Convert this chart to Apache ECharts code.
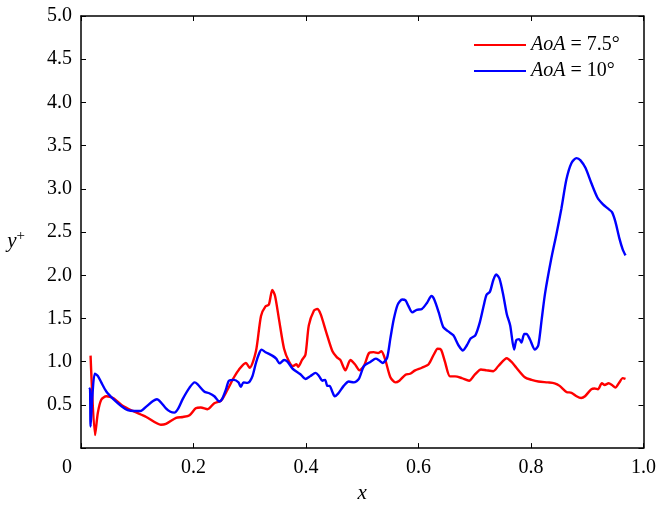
<!DOCTYPE html>
<html>
<head>
<meta charset="utf-8">
<script src="https://cdn.jsdelivr.net/npm/echarts@6/dist/echarts.min.js"></script>
<style>
html, body { margin: 0; padding: 0; background: #fff; }
#chart { width: 659px; height: 509px; }
</style>
</head>
<body>
<div id="chart"></div>
<script>
// y+ distribution along the chord for two angles of attack
const redName = 'AoA = 7.5°';
const blueName = 'AoA = 10°';

const redX = [0.017,0.025,0.030,0.036,0.045,0.057,0.074,0.092,0.116,0.142,0.151,0.169,0.181,0.193,0.204,0.213,0.225,0.237,0.249,0.260,0.272,0.281,0.293,0.300,0.311,0.320,0.328,0.334,0.340,0.345,0.352,0.361,0.370,0.377,0.383,0.386,0.393,0.399,0.405,0.414,0.420,0.426,0.436,0.447,0.455,0.461,0.470,0.479,0.487,0.495,0.503,0.512,0.520,0.528,0.534,0.541,0.550,0.559,0.566,0.577,0.585,0.594,0.606,0.618,0.627,0.634,0.640,0.647,0.656,0.665,0.677,0.690,0.700,0.711,0.721,0.733,0.742,0.757,0.765,0.774,0.789,0.801,0.813,0.830,0.842,0.851,0.863,0.872,0.881,0.889,0.896,0.907,0.913,0.919,0.926,0.931,0.938,0.944,0.950,0.957,0.963,0.968];
const redY = [1.07,0.15,0.41,0.56,0.60,0.58,0.49,0.43,0.36,0.27,0.28,0.35,0.36,0.38,0.46,0.47,0.45,0.52,0.55,0.67,0.82,0.91,0.985,0.93,1.12,1.53,1.64,1.66,1.83,1.76,1.49,1.15,1.00,0.95,0.97,0.94,1.02,1.08,1.42,1.59,1.61,1.55,1.34,1.12,1.05,1.02,0.90,1.02,0.97,0.90,0.95,1.10,1.11,1.10,1.12,1.02,0.82,0.76,0.78,0.85,0.86,0.90,0.93,0.97,1.08,1.15,1.14,1.00,0.83,0.83,0.81,0.78,0.85,0.91,0.90,0.89,0.95,1.04,1.00,0.93,0.82,0.79,0.77,0.76,0.75,0.72,0.65,0.64,0.60,0.58,0.60,0.68,0.69,0.68,0.75,0.73,0.75,0.73,0.70,0.76,0.81,0.80];

const blueX = [0.0145,0.016,0.017,0.020,0.0245,0.030,0.036,0.045,0.057,0.072,0.083,0.095,0.106,0.116,0.128,0.135,0.142,0.151,0.159,0.166,0.173,0.181,0.193,0.202,0.207,0.219,0.228,0.237,0.246,0.251,0.258,0.263,0.272,0.280,0.284,0.289,0.296,0.300,0.305,0.311,0.317,0.321,0.328,0.340,0.347,0.353,0.361,0.367,0.376,0.384,0.390,0.399,0.408,0.417,0.423,0.429,0.434,0.438,0.442,0.447,0.451,0.457,0.467,0.476,0.485,0.494,0.503,0.515,0.524,0.529,0.536,0.544,0.550,0.556,0.563,0.571,0.577,0.582,0.589,0.597,0.606,0.615,0.623,0.628,0.636,0.644,0.653,0.662,0.671,0.679,0.686,0.693,0.701,0.709,0.717,0.721,0.727,0.733,0.738,0.744,0.751,0.757,0.763,0.770,0.774,0.779,0.783,0.788,0.792,0.798,0.807,0.813,0.819,0.825,0.836,0.845,0.854,0.863,0.872,0.881,0.888,0.897,0.907,0.918,0.928,0.937,0.944,0.950,0.957,0.963,0.968];
const blueY = [0.68,0.69,0.25,0.58,0.86,0.835,0.76,0.655,0.57,0.485,0.44,0.43,0.43,0.48,0.545,0.565,0.53,0.46,0.42,0.41,0.46,0.57,0.70,0.76,0.74,0.655,0.635,0.60,0.54,0.57,0.685,0.78,0.79,0.76,0.71,0.76,0.755,0.77,0.835,0.985,1.10,1.14,1.11,1.07,1.035,0.98,1.02,1.00,0.92,0.88,0.855,0.80,0.835,0.87,0.835,0.78,0.79,0.72,0.72,0.65,0.60,0.63,0.72,0.77,0.76,0.80,0.95,1.00,1.035,1.02,0.985,1.04,1.27,1.49,1.66,1.72,1.71,1.645,1.57,1.60,1.61,1.68,1.76,1.72,1.57,1.40,1.35,1.305,1.19,1.13,1.19,1.27,1.305,1.455,1.68,1.775,1.81,1.945,2.01,1.96,1.76,1.55,1.42,1.14,1.25,1.26,1.22,1.32,1.32,1.26,1.14,1.19,1.49,1.79,2.19,2.47,2.77,3.11,3.30,3.355,3.33,3.24,3.07,2.90,2.82,2.77,2.73,2.62,2.43,2.30,2.23];

const xMin = 0, xMax = 1.0, xStep = 0.2;
const yMin = 0, yMax = 5.0, yStep = 0.5;

const zip = (xs, ys) => xs.map((x, i) => [x, ys[i]]);

const FONT = '"Liberation Serif", "DejaVu Serif", serif';
const FS = 20;

const chart = echarts.init(document.getElementById('chart'), null, { renderer: 'canvas' });

const axisLine = { show: true, onZero: false, lineStyle: { color: '#000', width: 1.5 } };
const tickIn = { show: true, inside: true, length: 5, lineStyle: { color: '#000', width: 1 } };

chart.setOption({
  animation: false,
  backgroundColor: '#fff',
  grid: { left: 81, right: 13, top: 16, bottom: 50, containLabel: false },
  legend: {
    orient: 'vertical',
    left: 469,
    top: 29,
    itemWidth: 52,
    itemHeight: 2,
    itemGap: 4,
    icon: 'rect',
    data: [redName, blueName],
    formatter: function (name) {
      return name.replace('AoA', '{i|AoA}');
    },
    textStyle: {
      fontFamily: FONT,
      fontSize: FS,
      color: '#000',
      lineHeight: 22,
      padding: [0, 0, 0, 0],
      rich: { i: { fontFamily: FONT, fontSize: FS, fontStyle: 'italic', color: '#000' } }
    }
  },
  xAxis: [{
    type: 'value', min: xMin, max: xMax, interval: xStep, position: 'bottom',
    name: 'x', nameLocation: 'middle', nameGap: 29,
    nameTextStyle: { fontFamily: FONT, fontSize: FS + 1, fontStyle: 'italic', color: '#000' },
    axisLine: axisLine, axisTick: tickIn, splitLine: { show: false },
    axisLabel: {
      margin: 10, fontFamily: FONT, fontSize: FS, color: '#000',
      formatter: v => v === 0 ? '{o|0}' : v.toFixed(1),
      rich: { o: { fontFamily: FONT, fontSize: FS, color: '#000', padding: [0, 28, 0, 0] } }
    }
  }, {
    type: 'value', min: xMin, max: xMax, interval: xStep, position: 'top',
    axisLine: axisLine, axisTick: tickIn, splitLine: { show: false },
    axisLabel: { show: false }
  }],
  yAxis: [{
    type: 'value', min: yMin, max: yMax, interval: yStep, position: 'left',
    name: '{i|y}{s|+}', nameLocation: 'middle', nameRotate: 0, nameGap: 56,
    nameTextStyle: {
      fontFamily: FONT, fontSize: FS, color: '#000', align: 'right',
      padding: [18, 0, 0, 0],
      rich: {
        i: { fontFamily: FONT, fontSize: FS + 1, fontStyle: 'italic', color: '#000' },
        s: { fontFamily: FONT, fontSize: 15, color: '#000', padding: [0, 0, 10, 0] }
      }
    },
    axisLine: axisLine, axisTick: tickIn, splitLine: { show: false },
    axisLabel: {
      margin: 9, fontFamily: FONT, fontSize: FS, color: '#000',
      formatter: v => v === 0 ? '' : v.toFixed(1)
    }
  }, {
    type: 'value', min: yMin, max: yMax, interval: yStep, position: 'right',
    axisLine: axisLine, axisTick: tickIn, splitLine: { show: false },
    axisLabel: { show: false }
  }],
  series: [{
    name: redName, type: 'line', data: zip(redX, redY),
    showSymbol: false, smooth: 0.25, clip: true,
    lineStyle: { color: '#ff0000', width: 2.4 }, itemStyle: { color: '#ff0000' }
  }, {
    name: blueName, type: 'line', data: zip(blueX, blueY),
    showSymbol: false, smooth: 0.25, clip: true,
    lineStyle: { color: '#0000ff', width: 2.4 }, itemStyle: { color: '#0000ff' }
  }]
});
</script>
</body>
</html>
